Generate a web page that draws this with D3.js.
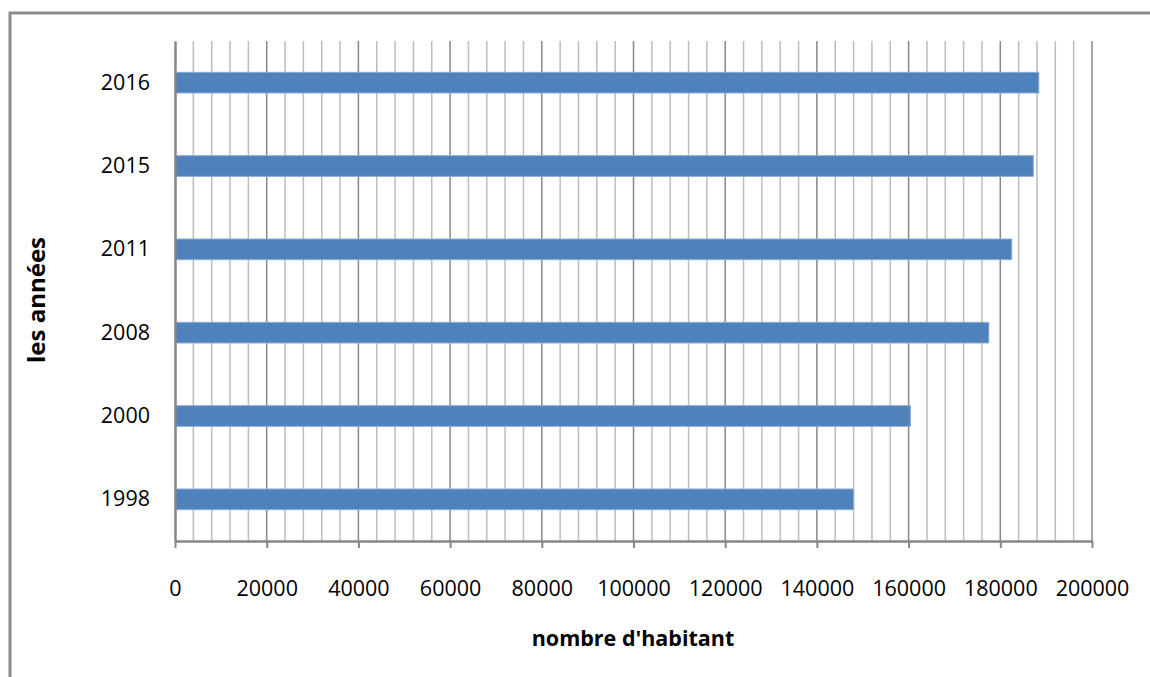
<!DOCTYPE html>
<html>
<head>
<meta charset="utf-8">
<script src="https://cdnjs.cloudflare.com/ajax/libs/d3/7.8.5/d3.min.js"></script>
<style>
  body { margin: 0; background: #fff; }
  svg { display: block; }
  .tick text { font-family: "Open Sans", sans-serif; fill: #000; }
</style>
</head>
<body>
<svg width="1150" height="677"></svg>
<script>
// data
var years = ['1998', '2000', '2008', '2011', '2015', '2016'];
var habitants = [148000, 160400, 177500, 182500, 187200, 188400];
var xTicks = [0, 20000, 40000, 60000, 80000, 100000, 120000, 140000, 160000, 180000, 200000];
var minorStep = 4000;

var svg = d3.select('svg');

// chart frame, runs off the right and bottom edges
svg.append('rect')
    .attr('x', 10).attr('y', 13)
    .attr('width', 1200).attr('height', 700)
    .attr('fill', 'white')
    .attr('stroke', '#8c8c8c')
    .attr('stroke-width', 3);

var plot = { left: 175, right: 1092, top: 41, bottom: 541 };

var x = d3.scaleLinear().domain([0, 200000]).range([plot.left, plot.right]);
var y = d3.scaleBand().domain(years.slice().reverse()).range([plot.top, plot.bottom]).paddingInner(0.752).paddingOuter(0.376);

// minor gridlines
var minor = d3.range(minorStep, 200001, minorStep).filter(v => v % 20000 !== 0);
svg.append('g').selectAll('line').data(minor).enter().append('line')
    .attr('x1', d => x(d)).attr('x2', d => x(d))
    .attr('y1', plot.top).attr('y2', plot.bottom)
    .attr('stroke', '#bcbcbc').attr('stroke-width', 1.5);

// major gridlines
svg.append('g').selectAll('line').data(xTicks.slice(1)).enter().append('line')
    .attr('x1', d => x(d)).attr('x2', d => x(d))
    .attr('y1', plot.top).attr('y2', plot.bottom)
    .attr('stroke', '#878787').attr('stroke-width', 1.5);

// bars
svg.append('g').selectAll('rect').data(years).enter().append('rect')
    .attr('x', x(0))
    .attr('y', d => y(d))
    .attr('width', (d, i) => x(habitants[i]) - x(0))
    .attr('height', y.bandwidth())
    .attr('fill', '#4f81bd')
    .attr('stroke', '#8eabd6')
    .attr('stroke-width', 1);

// x axis
var xAxis = svg.append('g')
    .attr('transform', 'translate(0,' + plot.bottom + ')')
    .call(d3.axisBottom(x).tickValues(xTicks).tickFormat(d3.format('d')).tickSize(7).tickSizeOuter(0).tickPadding(33));
xAxis.select('.domain').attr('stroke', '#878787').attr('stroke-width', 2.5);
xAxis.selectAll('.tick line').attr('stroke', '#878787').attr('stroke-width', 2);
xAxis.selectAll('.tick text').attr('font-size', 21.5);

// y axis
var yAxis = svg.append('g')
    .attr('transform', 'translate(' + plot.left + ',0)')
    .call(d3.axisLeft(y).tickSize(0).tickPadding(25));
yAxis.select('.domain').attr('stroke', '#878787').attr('stroke-width', 2.5);
yAxis.selectAll('.tick text').attr('font-size', 21.5);

// axis titles
svg.append('text')
    .attr('x', 633).attr('y', 646)
    .attr('text-anchor', 'middle')
    .attr('font-family', '"Open Sans", sans-serif')
    .attr('font-weight', 'bold')
    .attr('font-size', 21.5)
    .text("nombre d'habitant");

svg.append('text')
    .attr('transform', 'translate(45,300) rotate(-90)')
    .attr('text-anchor', 'middle')
    .attr('font-family', '"Open Sans", sans-serif')
    .attr('font-weight', 'bold')
    .attr('font-size', 24)
    .text('les années');
</script>
</body>
</html>
